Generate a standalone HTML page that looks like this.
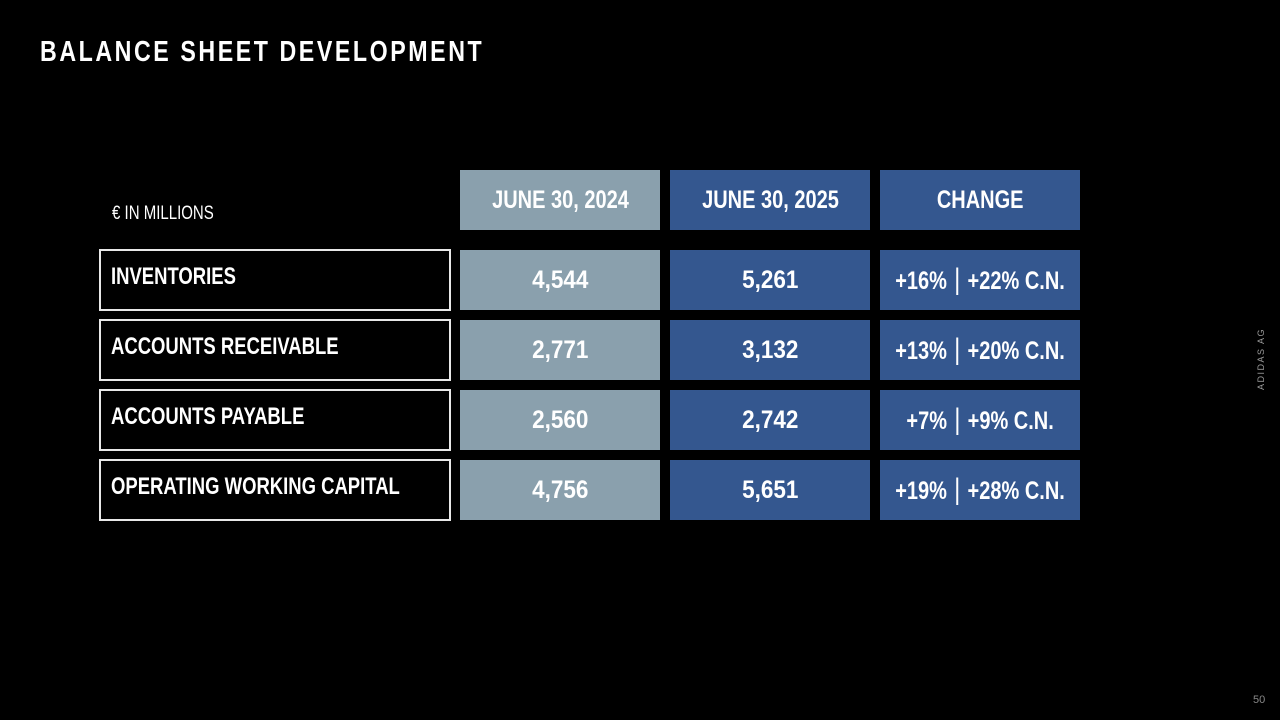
<!DOCTYPE html>
<html><head><meta charset="utf-8"><style>
body{margin:0;width:1280px;height:720px;background:#000;overflow:hidden;position:relative;font-family:"Liberation Sans",sans-serif;color:#fff}
.s{display:inline-block;white-space:nowrap;transform:scaleX(0.8)}
.t{position:absolute;left:40px;top:36px;font-weight:bold;font-size:29px;letter-spacing:3.2px;transform:scaleX(0.8);transform-origin:left;white-space:nowrap}
.c{position:absolute;width:200px;height:60px;display:flex;align-items:center;justify-content:center;font-weight:bold;font-size:25px;white-space:nowrap}
.n .s{transform:scaleX(0.9)}
.g{background:#8aa0ad}.b{background:#34578f}
.l{position:absolute;left:99px;width:348px;height:58px;border:2px solid #e8e8e8;font-weight:bold;font-size:24px;box-sizing:content-box}
.l span{position:absolute;left:10px;top:12px;white-space:nowrap;transform:scaleX(0.77);transform-origin:left}
.sep{font-weight:normal;margin:0 9px;font-size:30px}
</style></head><body>
<div class="t">BALANCE SHEET DEVELOPMENT</div>
<div style="position:absolute;left:112px;top:203px;font-size:19px;transform:scaleX(0.79);transform-origin:left;white-space:nowrap">€ IN MILLIONS</div>
<div class="c g" style="left:460px;top:170px"><span class="s">JUNE 30, 2024</span></div>
<div class="c b" style="left:670px;top:170px"><span class="s">JUNE 30, 2025</span></div>
<div class="c b" style="left:880px;top:170px"><span class="s">CHANGE</span></div>

<div class="l" style="top:249px"><span>INVENTORIES</span></div>
<div class="c g n" style="left:460px;top:250px"><span class="s">4,544</span></div>
<div class="c b n" style="left:670px;top:250px"><span class="s">5,261</span></div>
<div class="c b" style="left:880px;top:250px"><span class="s">+16%<span class="sep">|</span>+22% C.N.</span></div>

<div class="l" style="top:319px"><span>ACCOUNTS RECEIVABLE</span></div>
<div class="c g n" style="left:460px;top:320px"><span class="s">2,771</span></div>
<div class="c b n" style="left:670px;top:320px"><span class="s">3,132</span></div>
<div class="c b" style="left:880px;top:320px"><span class="s">+13%<span class="sep">|</span>+20% C.N.</span></div>

<div class="l" style="top:389px"><span>ACCOUNTS PAYABLE</span></div>
<div class="c g n" style="left:460px;top:390px"><span class="s">2,560</span></div>
<div class="c b n" style="left:670px;top:390px"><span class="s">2,742</span></div>
<div class="c b" style="left:880px;top:390px"><span class="s">+7%<span class="sep">|</span>+9% C.N.</span></div>

<div class="l" style="top:459px"><span>OPERATING WORKING CAPITAL</span></div>
<div class="c g n" style="left:460px;top:460px"><span class="s">4,756</span></div>
<div class="c b n" style="left:670px;top:460px"><span class="s">5,651</span></div>
<div class="c b" style="left:880px;top:460px"><span class="s">+19%<span class="sep">|</span>+28% C.N.</span></div>

<div style="position:absolute;left:1256px;top:390px;transform:rotate(-90deg);transform-origin:left top;font-size:9px;letter-spacing:1.5px;color:#999;white-space:nowrap">ADIDAS AG</div>
<div style="position:absolute;left:1253px;top:694px;font-size:11px;color:#888">50</div>
</body></html>
